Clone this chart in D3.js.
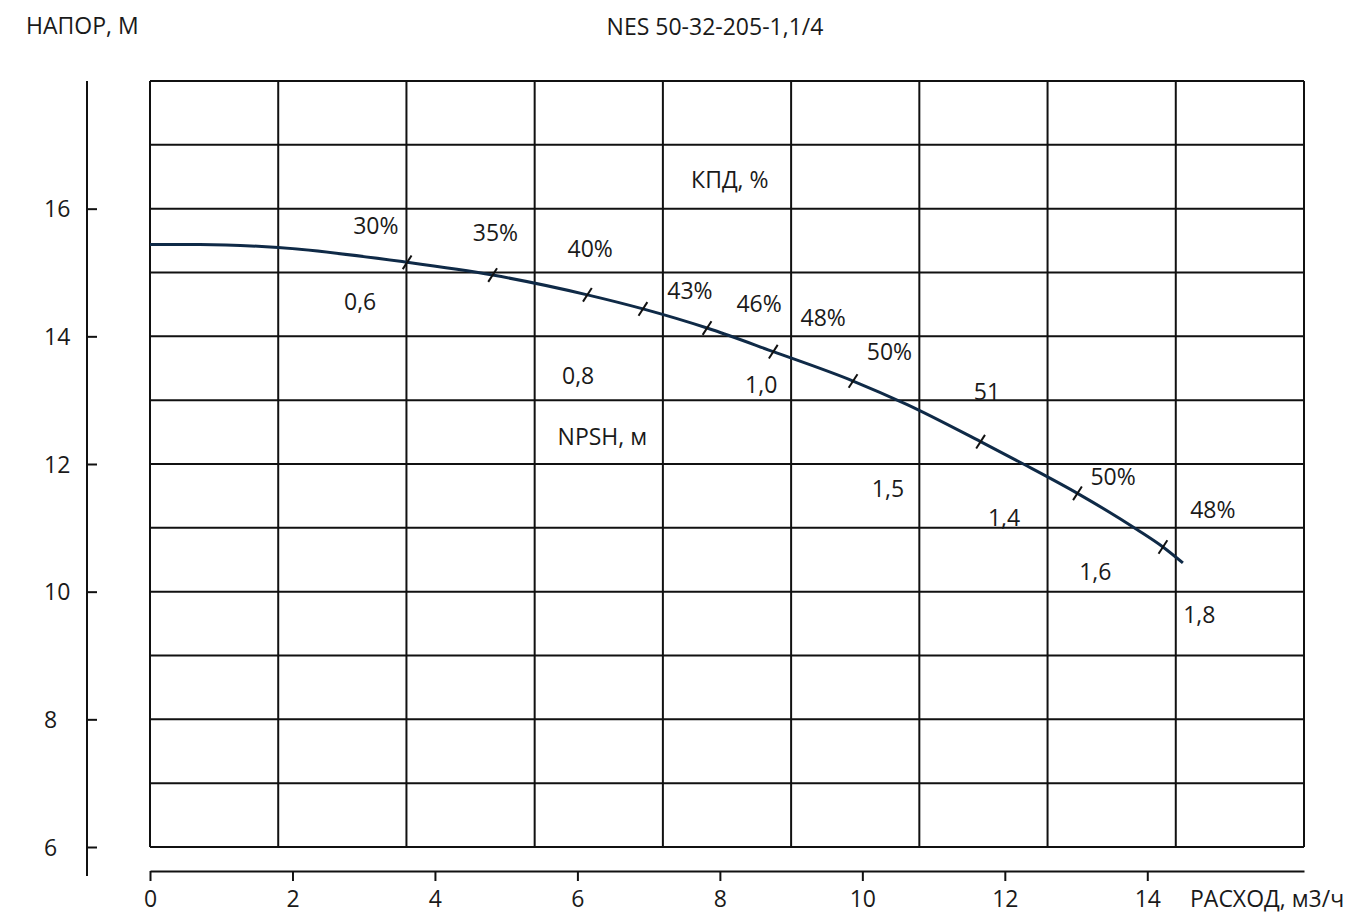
<!DOCTYPE html>
<html>
<head>
<meta charset="utf-8">
<script src="https://cdn.jsdelivr.net/npm/d3@7"></script>
<style>
  html, body { margin: 0; padding: 0; background: #fff; }
  svg text { font-family: "Open Sans", "Noto Sans", sans-serif; fill: #1a1a1a; }
</style>
</head>
<body>
<svg id="chart" width="1354" height="915"></svg>
<script>
// pump curve H(Q)
const curveQ = [0, 0.7, 1.8, 3.61, 4.81, 6.14, 6.92, 7.82, 8.75, 9.87, 10.63, 11.66, 12.26, 13.02, 13.86, 14.22, 14.5];
const curveH = [15.44, 15.44, 15.39, 15.16, 14.96, 14.65, 14.43, 14.13, 13.76, 13.30, 12.93, 12.35, 12.0, 11.54, 10.97, 10.70, 10.45];

// short marks across the curve
const markQ = [3.61, 4.81, 6.14, 6.92, 7.82, 8.75, 9.87, 11.66, 13.02, 14.22];
const markH = [15.16, 14.96, 14.65, 14.43, 14.13, 13.76, 13.30, 12.35, 11.54, 10.70];

// efficiency labels (КПД)
const effText = ["30%", "35%", "40%", "43%", "46%", "48%", "50%", "51", "50%", "48%"];
const effQ = [3.17, 4.85, 6.18, 7.58, 8.55, 9.45, 10.38, 11.75, 13.52, 14.92];
const effH = [15.73, 15.62, 15.37, 14.72, 14.51, 14.29, 13.76, 13.13, 11.80, 11.28];

// NPSH labels
const npshText = ["0,6", "0,8", "1,0", "1,5", "1,4", "1,6", "1,8"];
const npshQ = [2.95, 6.01, 8.58, 10.36, 11.99, 13.27, 14.73];
const npshH = [14.54, 13.38, 13.24, 11.61, 11.16, 10.32, 9.64];

// axes
const xTicks = [0, 2, 4, 6, 8, 10, 12, 14];
const yTicks = [6, 8, 10, 12, 14, 16];
const xGrid = [0, 1.8, 3.6, 5.4, 7.2, 9.0, 10.8, 12.6, 14.4, 16.2];
const yGrid = [6, 7, 8, 9, 10, 11, 12, 13, 14, 15, 16, 17, 18];

const svg = d3.select("#chart");
const fontSize = 23;

const x = d3.scaleLinear().domain([0, 16.2]).range([150, 1304]);
const y = d3.scaleLinear().domain([6, 18]).range([847, 81]);

// grid
svg.append("g")
    .selectAll("line")
    .data(xGrid)
    .join("line")
    .attr("x1", d => x(d)).attr("x2", d => x(d))
    .attr("y1", y(18)).attr("y2", y(6))
    .attr("stroke", "#111")
    .attr("stroke-width", 2);

svg.append("g")
    .selectAll("line")
    .data(yGrid)
    .join("line")
    .attr("x1", x(0)).attr("x2", x(16.2))
    .attr("y1", d => y(d)).attr("y2", d => y(d))
    .attr("stroke", "#111")
    .attr("stroke-width", 2);

// y axis, drawn left of the grid
const yAxis = svg.append("g")
    .attr("transform", "translate(87,0)")
    .call(d3.axisLeft(y).tickValues(yTicks).tickSize(-10).tickFormat(d3.format("d")));
yAxis.select(".domain").remove();
yAxis.selectAll(".tick line").attr("stroke", "#111").attr("stroke-width", 2);
yAxis.selectAll(".tick text")
    .attr("x", -43)
    .attr("dy", "0.36em")
    .attr("text-anchor", "start")
    .style("font-size", fontSize + "px")
    .style("font-family", "'Open Sans', sans-serif")
    .attr("fill", "#1a1a1a");
svg.append("line")
    .attr("x1", 87).attr("x2", 87)
    .attr("y1", y(18)).attr("y2", y(6) + 29)
    .attr("stroke", "#111")
    .attr("stroke-width", 2);

// x axis, below the grid
const xAxis = svg.append("g")
    .attr("transform", "translate(0,871)")
    .call(d3.axisBottom(x).tickValues(xTicks).tickSizeInner(10).tickSizeOuter(0).tickPadding(10));
xAxis.select(".domain").attr("stroke", "#111").attr("stroke-width", 2);
xAxis.selectAll(".tick line").attr("stroke", "#111").attr("stroke-width", 2);
xAxis.selectAll(".tick text")
    .style("font-size", fontSize + "px")
    .style("font-family", "'Open Sans', sans-serif")
    .attr("fill", "#1a1a1a")
    .attr("y", 0)
    .attr("dy", (899 - 871) + fontSize * 0.36);

// the curve
const pts = curveQ.map((q, i) => [q, curveH[i]]);
const line = d3.line()
    .x(d => x(d[0]))
    .y(d => y(d[1]))
    .curve(d3.curveMonotoneX);

svg.append("path")
    .attr("d", line(pts))
    .attr("fill", "none")
    .attr("stroke", "#0f2a47")
    .attr("stroke-width", 3)
    .attr("stroke-linecap", "butt");

// slanted marks on the curve
const mx = 4.4, my = 6.8;
svg.append("g")
    .selectAll("line")
    .data(markQ.map((q, i) => [q, markH[i]]))
    .join("line")
    .attr("x1", d => x(d[0]) - mx).attr("y1", d => y(d[1]) + my)
    .attr("x2", d => x(d[0]) + mx).attr("y2", d => y(d[1]) - my)
    .attr("stroke", "#111")
    .attr("stroke-width", 2);

// labels
function labels(texts, qs, hs) {
    svg.append("g")
        .selectAll("text")
        .data(texts.map((t, i) => ({ t, q: qs[i], h: hs[i] })))
        .join("text")
        .attr("x", d => x(d.q))
        .attr("y", d => y(d.h))
        .attr("dy", "0.36em")
        .attr("text-anchor", "middle")
        .style("font-size", fontSize + "px")
        .text(d => d.t);
}
labels(effText, effQ, effH);
labels(npshText, npshQ, npshH);

// series names inside the plot
labels(["КПД, %", "NPSH, м"], [8.14, 6.35], [16.45, 12.43]);

// titles
svg.append("text")
    .attr("x", 26).attr("y", 26).attr("dy", "0.36em")
    .style("font-size", fontSize + "px")
    .text("НАПОР, М");

svg.append("text")
    .attr("x", 715).attr("y", 27).attr("dy", "0.36em")
    .attr("text-anchor", "middle")
    .style("font-size", fontSize + "px")
    .text("NES 50-32-205-1,1/4");

svg.append("text")
    .attr("x", 1190).attr("y", 899).attr("dy", "0.36em")
    .style("font-size", fontSize + "px")
    .text("РАСХОД, м3/ч");
</script>
</body>
</html>
